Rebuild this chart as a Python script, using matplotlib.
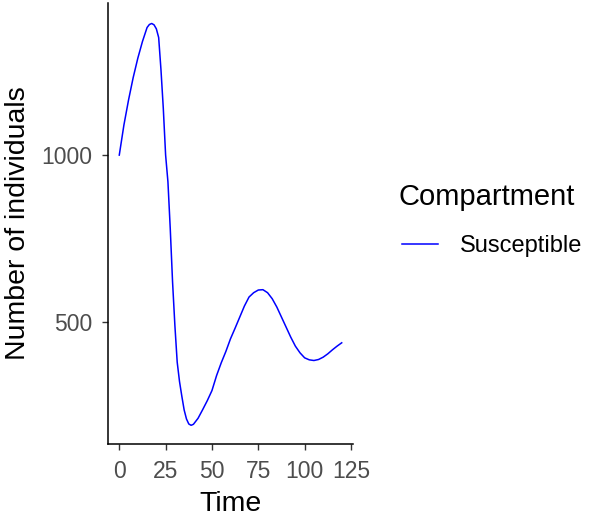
import numpy as np
import matplotlib
matplotlib.use('Agg')
import matplotlib.pyplot as plt

matplotlib.rcParams['font.family'] = ['Liberation Sans', 'DejaVu Sans']

# susceptible curve, values
time = [0, 2.5, 5, 7.5, 10, 12.5, 15, 16.25, 17.5, 18.75, 20, 21.25, 22.5,
        23.75, 25, 26.25, 27.5, 28.75, 30, 31.25, 32.5, 33.75, 35, 36.25,
        37.5, 38.75, 40, 42.5, 45, 47.5, 50, 52.5, 55, 57.5, 60, 62.5, 65,
        67.5, 70, 72.5, 75, 77.5, 80, 82.5, 85, 87.5, 90, 92.5, 95, 97.5, 100,
        102.5, 105, 107.5, 110, 112.5, 115, 117.5, 120]
susceptible = [1000, 1090, 1165, 1232, 1290, 1340, 1382, 1391, 1394, 1390,
               1378, 1352, 1255, 1140, 1000, 920, 780, 620, 490, 380, 322,
               278, 237, 210, 195, 191, 194, 212, 238, 265, 295, 340, 378, 412,
               450, 482, 515, 548, 575, 588, 596, 597, 588, 570, 545, 515, 485,
               455, 428, 408, 393, 387, 385, 388, 395, 405, 417, 428, 438]
xticks = [0, 25, 50, 75, 100, 125]
yticks = [500, 1000]

fig = plt.figure(figsize=(5.91, 5.19), dpi=100, facecolor='white')
ax = fig.add_axes([0.183, 0.1445, 0.414, 0.8495])
ax.plot(time, susceptible, color='#0000FF', linewidth=1.1, label='Susceptible')

ax.set_xlim(-6, 126)
ax.set_ylim(135, 1455)
ax.set_xticks(xticks)
ax.set_yticks(yticks)
for s in ['top', 'right']:
    ax.spines[s].set_visible(False)
for s in ['left', 'bottom']:
    ax.spines[s].set_linewidth(1.1)
    ax.spines[s].set_color('black')
ax.tick_params(labelsize=16.5, labelcolor='#4D4D4D', length=4.2, width=1.0,
               color='#333333', pad=7)
ax.set_xlabel('Time', fontsize=20.5, labelpad=6)
ax.set_ylabel('Number of individuals', fontsize=20.5, labelpad=7.5)

# legend: title as text, entry as a legend
fig.text(399 / 591, 1 - 197 / 519, 'Compartment', fontsize=21,
         ha='left', va='center')
leg = ax.legend(loc='center left', bbox_to_anchor=(402 / 591, 1 - 246 / 519),
                bbox_transform=fig.transFigure, frameon=False, fontsize=17,
                handlelength=1.52, handletextpad=0.93, borderpad=0,
                borderaxespad=0)

fig.savefig('out.png', dpi=100)
